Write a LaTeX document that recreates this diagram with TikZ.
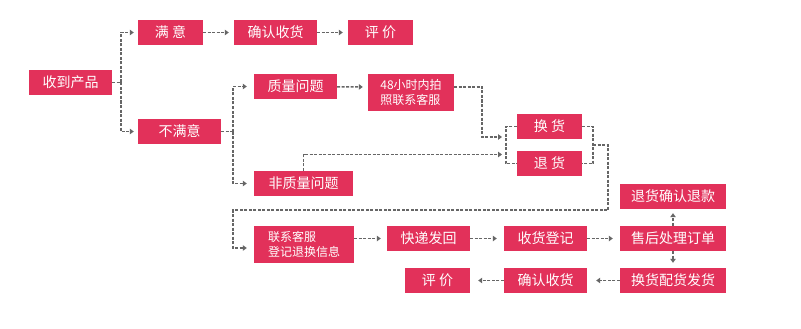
\documentclass[tikz,border=0pt]{standalone}
\usepackage{fontspec}
\setmainfont{Noto Sans CJK SC}
\usetikzlibrary{arrows.meta}
\definecolor{boxred}{HTML}{E2315A}
\definecolor{linegray}{HTML}{666666}
\tikzset{
  box/.style={fill=boxred, text=white, inner sep=0pt, minimum height=25pt,
    font=\fontsize{14}{16}\selectfont},
  tallbox/.style={box, minimum height=37pt, align=left,
    font=\fontsize{12}{15}\selectfont},
  dline/.style={draw=linegray, line width=1.5pt, dash pattern=on 3pt off 1.5pt},
  conn/.style={dline, -{Triangle[length=4pt,width=5.5pt]}, shorten >=6pt},
}
\begin{document}
\begin{tikzpicture}[x=1pt,y=-1pt]
\useasboundingbox (0,0) rectangle (801,329);
% nodes
\node[box, minimum width=83pt] (recv) at (70.5,82.5) {收到产品};
\node[box, minimum width=65pt] (sat) at (170.5,32.5) {满 意};
\node[box, minimum width=83pt] (conf1) at (275.5,32.5) {确认收货};
\node[box, minimum width=65pt] (eval1) at (380.5,32.5) {评 价};
\node[box, minimum width=83pt] (unsat) at (179.5,131.5) {不满意};
\node[box, minimum width=83pt] (qual) at (295.5,86.5) {质量问题};
\node[tallbox, minimum width=86pt] (h48) at (411,92.5) {48小时内拍\\照联系客服};
\node[box, minimum width=99pt] (nonq) at (303.5,183.5) {非质量问题};
\node[box, minimum width=65pt] (exch) at (549.5,126.5) {换 货};
\node[box, minimum width=65pt] (ret) at (549.5,163.5) {退 货};
\node[tallbox, minimum width=100pt] (contact) at (304,244.5) {联系客服\\登记退换信息};
\node[box, minimum width=83pt] (express) at (428.5,238.5) {快递发回};
\node[box, minimum width=83pt] (reg) at (545.5,238.5) {收货登记};
\node[box, minimum width=106pt] (after) at (673,238.5) {售后处理订单};
\node[box, minimum width=106pt] (refund) at (673,196.5) {退货确认退款};
\node[box, minimum width=106pt] (ship) at (673,280.5) {换货配货发货};
\node[box, minimum width=83pt] (conf2) at (545.5,280.5) {确认收货};
\node[box, minimum width=65pt] (eval2) at (437.5,280.5) {评 价};
% junction coordinates
\coordinate (j1) at (121,82.5);
\coordinate (j2) at (233,131.5);
\coordinate (in1) at (502,137);
\coordinate (in2) at (502,154.5);
\coordinate (rb) at (593,145);
\coordinate (r1) at (608,210);
\coordinate (r2) at (233,210);
% connectors
\draw[dline] (recv.east) -- (j1);
\draw[conn, shorten >=4pt] (j1) |- (sat.west);
\draw[conn, shorten >=4pt] (j1) |- (unsat.west);
\draw[conn, shorten >=5pt] (sat) -- (conf1);
\draw[conn, shorten >=5pt] (conf1) -- (eval1);
\draw[dline] (unsat.east) -- (j2);
\draw[conn, shorten >=7pt] (j2) |- (qual.west);
\draw[conn, shorten >=7pt] (j2) |- (nonq.west);
\draw[conn, shorten >=5pt] (qual) -- ([yshift=5.5pt]h48.west);
\draw[conn, shorten >=0pt] ([yshift=5.5pt]h48.east) -- ++(28,0) |- (in1);
\draw[conn, shorten >=0pt] (nonq.north) |- (in2);
\draw[dline] (exch.west) -- ++(-11,0) |- (ret.west);
\draw[dline] (exch.east) -- ++(11,0) |- (ret.east);
\draw[conn, shorten >=7pt] (rb) -| (r1) -- (r2) |- ([yshift=-3.5pt]contact.west);
\draw[conn, shorten >=6pt] ([yshift=6pt]contact.east) -- (express.west);
\draw[conn, shorten >=7pt] (express) -- (reg);
\draw[conn, shorten >=7pt] (reg) -- (after);
\draw[conn, shorten >=4pt] (after) -- (refund);
\draw[conn, shorten >=5pt] (after) -- (ship);
\draw[conn, shorten >=9pt] (ship) -- (conf2);
\draw[conn, shorten >=8pt] (conf2) -- (eval2);
\end{tikzpicture}
\end{document}
